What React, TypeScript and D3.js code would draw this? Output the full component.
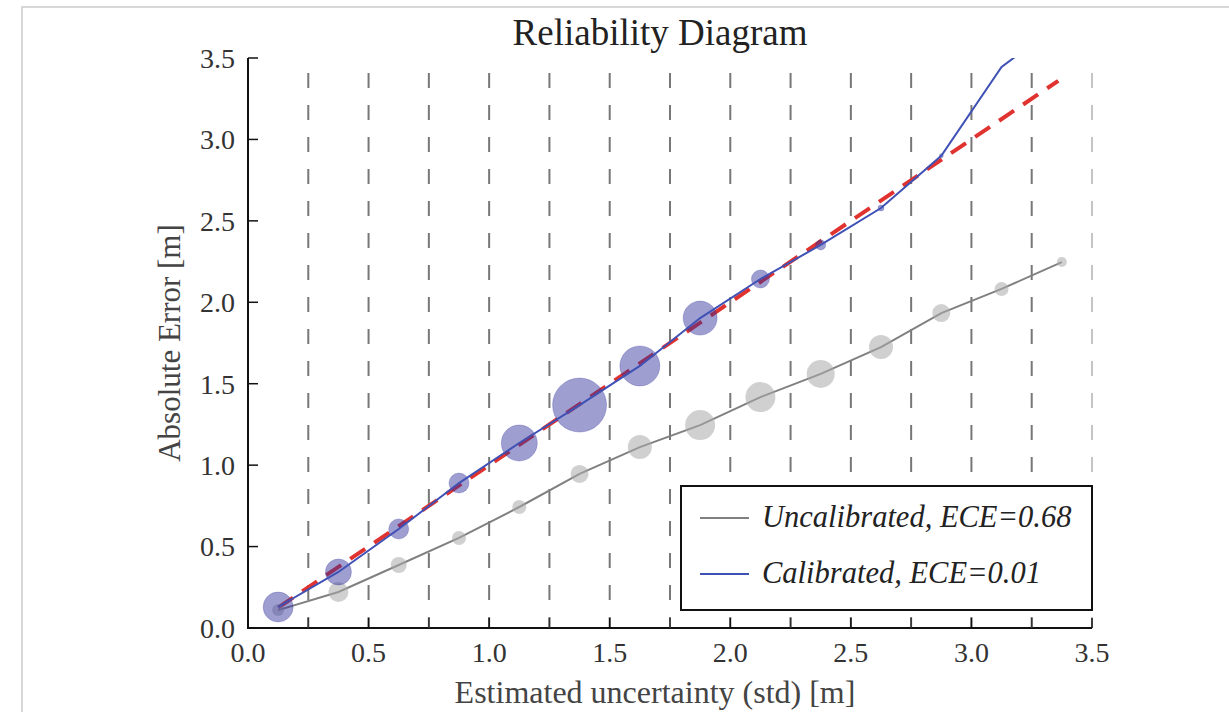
import React from "react"
import * as d3 from "d3"

// bins of estimated std [m]
const binCenters = [0.125, 0.375, 0.625, 0.875, 1.125, 1.375, 1.625, 1.875, 2.125, 2.375, 2.625, 2.875, 3.125, 3.375]
const binEdges = [0.25, 0.5, 0.75, 1.0, 1.25, 1.5, 1.75, 2.0, 2.25, 2.5, 2.75, 3.0, 3.25, 3.5]

// mean absolute error per bin
const uncalError = [0.11, 0.221, 0.387, 0.553, 0.743, 0.946, 1.111, 1.246, 1.418, 1.56, 1.725, 1.934, 2.082, 2.247]
const calError = [0.129, 0.344, 0.608, 0.89, 1.136, 1.369, 1.609, 1.903, 2.143, 2.352, 2.579, 2.9, 3.445, 3.72]

// samples per bin (marker area)
const uncalCount = [36, 100, 64, 49, 49, 81, 144, 225, 225, 196, 144, 81, 49, 25]
const calCount = [225, 169, 100, 100, 324, 729, 400, 289, 81, 25, 9, 4, 0, 0]

const xTicks = [0, 0.5, 1.0, 1.5, 2.0, 2.5, 3.0, 3.5]
const xMinorTicks = [0.25, 0.75, 1.25, 1.75, 2.25, 2.75, 3.25]
const yTicks = [0, 0.5, 1.0, 1.5, 2.0, 2.5, 3.0, 3.5]
const idealLine = [0.125, 3.36]

const legendItems = [
  { label: "Uncalibrated, ECE=0.68", color: "#808080" },
  { label: "Calibrated, ECE=0.01", color: "#3f51b5" },
]

const W = 1229, H = 712
const m = { left: 248, right: 1092, top: 58, bottom: 628 }
const font = "'Liberation Serif', 'Times New Roman', serif"

export default function App() {
  const x = d3.scaleLinear().domain([0, 3.5]).range([m.left, m.right])
  const y = d3.scaleLinear().domain([0, 3.5]).range([m.bottom, m.top])
  const r = d3.scaleSqrt().domain([0, 729]).range([0, 27])

  const line = d3.line<[number, number]>().x(d => x(d[0])).y(d => y(d[1]))
  const uncalPts = binCenters.map((c, i) => [c, uncalError[i]] as [number, number])
  const calPts = binCenters.map((c, i) => [c, calError[i]] as [number, number])

  return (
    <svg width={W} height={H} style={{ position: "absolute", left: 0, top: 0, background: "#fff" }} fontFamily={font}>
      <defs>
        <clipPath id="plot">
          <rect x={m.left} y={m.top} width={m.right - m.left} height={m.bottom - m.top} />
        </clipPath>
      </defs>
      <rect x={22} y={7} width={W} height={H} fill="none" stroke="#cccccc" strokeWidth={1.5} />

      <text x={660} y={45} textAnchor="middle" fontSize={37} fill="#222">Reliability Diagram</text>

      {/* bin edges */}
      {binEdges.map((e, i) => (
        <line key={e} x1={x(e)} x2={x(e)} y1={y(0)} y2={y(3.5)}
          stroke={i === binEdges.length - 1 ? "#c4c4c4" : "#777"} strokeWidth={2}
          strokeDasharray="15 17" strokeDashoffset={4} />
      ))}

      <g clipPath="url(#plot)">
        <path d={line(idealLine.map(v => [v, v] as [number, number])) || ""} fill="none"
          stroke="#e0322f" strokeWidth={4} strokeDasharray="18 11" />
        <path d={line(uncalPts) || ""} fill="none" stroke="#808080" strokeWidth={2} />
        {uncalPts.map((p, i) => (
          <circle key={"u" + i} cx={x(p[0])} cy={y(p[1])} r={r(uncalCount[i])}
            fill="#a9a9a9" fillOpacity={0.55} />
        ))}
        {calPts.map((p, i) => calCount[i] > 0 && (
          <circle key={"c" + i} cx={x(p[0])} cy={y(p[1])} r={r(calCount[i])}
            fill="#30309c" fillOpacity={0.47} stroke="#30309c" strokeOpacity={0.25} />
        ))}
        <path d={line(calPts) || ""} fill="none" stroke="#3f51b5" strokeWidth={2} />
      </g>

      {/* axes */}
      <line x1={m.left} x2={m.left} y1={m.top} y2={m.bottom} stroke="#111" strokeWidth={2} />
      <line x1={m.left - 1} x2={m.right} y1={m.bottom} y2={m.bottom} stroke="#111" strokeWidth={2} />
      {yTicks.map(t => (
        <g key={"y" + t}>
          <line x1={m.left} x2={m.left + 10} y1={y(t)} y2={y(t)} stroke="#111" strokeWidth={1.5} />
          <text x={m.left - 13} y={y(t)} dy="0.35em" textAnchor="end" fontSize={28} fill="#333">{t.toFixed(1)}</text>
        </g>
      ))}
      {xTicks.map(t => (
        <g key={"x" + t}>
          <line x1={x(t)} x2={x(t)} y1={m.bottom} y2={m.bottom - 10} stroke="#111" strokeWidth={1.5} />
          <text x={x(t)} y={662} textAnchor="middle" fontSize={28} fill="#333">{t.toFixed(1)}</text>
        </g>
      ))}
      {xMinorTicks.map(t => (
        <line key={"xm" + t} x1={x(t)} x2={x(t)} y1={m.bottom} y2={m.bottom - 10} stroke="#333" strokeWidth={1.5} />
      ))}

      <text x={655} y={703} textAnchor="middle" fontSize={32} fill="#444">Estimated uncertainty (std) [m]</text>
      <text transform={`translate(180,${343}) rotate(-90)`} textAnchor="middle" fontSize={31} fill="#444">Absolute Error [m]</text>

      {/* legend */}
      <g>
        <rect x={681} y={486} width={m.right - 681} height={124} fill="#fff" stroke="#111" strokeWidth={2} />
        {legendItems.map((it, i) => (
          <g key={it.label} transform={`translate(0,${518 + i * 56})`}>
            <line x1={700} x2={749} y1={0} y2={0} stroke={it.color} strokeWidth={2} />
            <text x={762} y={9} fontSize={30.5} fontStyle="italic" fill="#222">{it.label}</text>
          </g>
        ))}
      </g>
    </svg>
  )
}
